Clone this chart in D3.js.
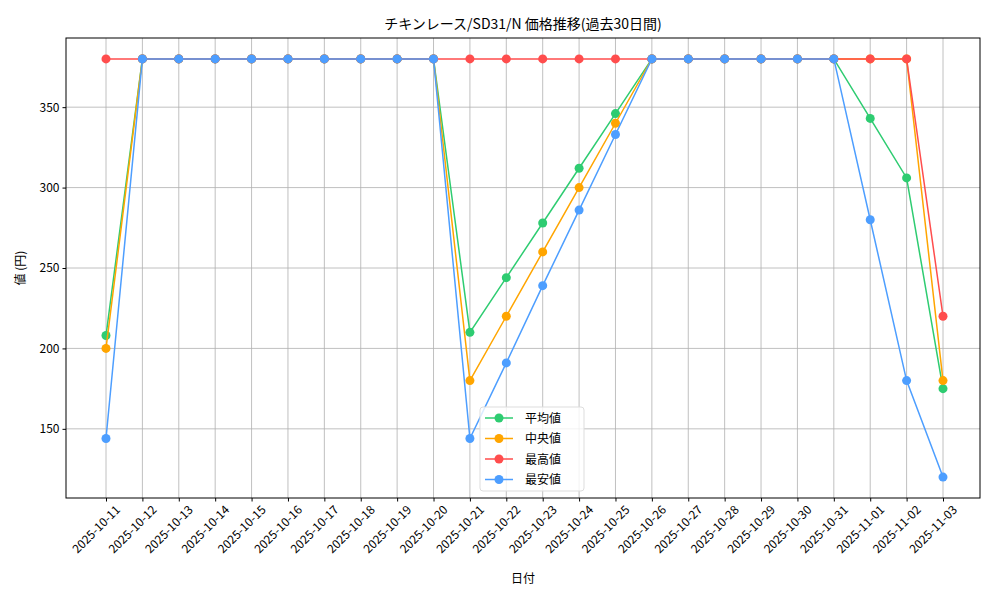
<!DOCTYPE html><html><head><meta charset="utf-8"><script src="https://d3js.org/d3.v7.min.js"></script>
<style>body{margin:0;background:#fff}text{font-family:"Noto Sans CJK JP","DejaVu Sans",sans-serif}</style></head><body><svg id="c" width="1000" height="600"></svg><script>
const dates=["2025-10-11","2025-10-12","2025-10-13","2025-10-14","2025-10-15","2025-10-16","2025-10-17","2025-10-18","2025-10-19","2025-10-20","2025-10-21","2025-10-22","2025-10-23","2025-10-24","2025-10-25","2025-10-26","2025-10-27","2025-10-28","2025-10-29","2025-10-30","2025-10-31","2025-11-01","2025-11-02","2025-11-03"];
const avgVals=[208,380,380,380,380,380,380,380,380,380,210,244,278,312,346,380,380,380,380,380,380,343,306,175];
const medVals=[200,380,380,380,380,380,380,380,380,380,180,220,260,300,340,380,380,380,380,380,380,380,380,180];
const maxVals=[380,380,380,380,380,380,380,380,380,380,380,380,380,380,380,380,380,380,380,380,380,380,380,220];
const minVals=[144,380,380,380,380,380,380,380,380,380,144,191,239,286,333,380,380,380,380,380,380,280,180,120];
const yTicks=[150,200,250,300,350];
const series=[{n:"平均値",v:avgVals,c:"#2ecc71"},{n:"中央値",v:medVals,c:"#ffa500"},{n:"最高値",v:maxVals,c:"#ff4d4d"},{n:"最安値",v:minVals,c:"#4d9eff"}];
const L=66,R=980,T=38,B=498;
const svg=d3.select("#c");
const n=dates.length;
const x=d3.scaleLinear().domain([0,n-1]).range([106,943]);
const y=d3.scaleLinear().domain([107,393]).range([B,T]);
const g=svg.append("g");
dates.forEach((d,i)=>g.append("line").attr("x1",x(i)).attr("x2",x(i)).attr("y1",T).attr("y2",B).attr("stroke","#b0b0b0").attr("stroke-width",0.8));
yTicks.forEach(t=>g.append("line").attr("x1",L).attr("x2",R).attr("y1",y(t)).attr("y2",y(t)).attr("stroke","#b0b0b0").attr("stroke-width",0.8));
const ya=svg.append("g").attr("transform",`translate(${L},0)`).call(d3.axisLeft(y).tickValues(yTicks).tickSize(3.5).tickPadding(3));
const xa=svg.append("g").attr("transform",`translate(0,${B})`).call(d3.axisBottom(x).tickValues(d3.range(n)).tickFormat(i=>dates[i]).tickSize(3.5));
[ya,xa].forEach(a=>{a.select(".domain").remove();a.selectAll("text").attr("font-size",12).attr("fill","#000").style("font-family",'"Noto Sans CJK JP"');a.selectAll("line").attr("stroke","#000");});
xa.selectAll("text").attr("text-anchor","end").attr("transform","translate(4,2) rotate(-45)").attr("dx",0).attr("dy","0.7em");
svg.append("rect").attr("x",L).attr("y",T).attr("width",R-L).attr("height",B-T).attr("fill","none").attr("stroke","#000").attr("stroke-width",1);
const line=d3.line().x((d,i)=>x(i)).y(d=>y(d));
series.forEach(s=>{
 svg.append("path").attr("d",line(s.v)).attr("fill","none").attr("stroke",s.c).attr("stroke-width",1.5);
 svg.append("g").selectAll("circle").data(s.v).join("circle").attr("cx",(d,i)=>x(i)).attr("cy",d=>y(d)).attr("r",4.5).attr("fill",s.c);
});
svg.append("text").attr("x",(L+R)/2).attr("y",29).attr("text-anchor","middle").attr("font-size",14).text("チキンレース/SD31/N 価格推移(過去30日間)");
svg.append("text").attr("x",523).attr("y",583).attr("text-anchor","middle").attr("font-size",12).text("日付");
svg.append("text").attr("transform","translate(25,268) rotate(-90)").attr("text-anchor","middle").attr("font-size",12).text("値 (円)");
const lg=svg.append("g").attr("transform","translate(480,407)");
lg.append("rect").attr("width",104).attr("height",84).attr("rx",3).attr("fill","#fff").attr("fill-opacity",0.8).attr("stroke","#ddd");
series.forEach((s,i)=>{const yy=11+i*20.5;
 lg.append("line").attr("x1",5).attr("x2",33).attr("y1",yy).attr("y2",yy).attr("stroke",s.c).attr("stroke-width",1.5);
 lg.append("circle").attr("cx",19).attr("cy",yy).attr("r",4.5).attr("fill",s.c);
 lg.append("text").attr("x",45).attr("y",yy+4.5).attr("font-size",12).text(s.n);});
</script></body></html>
